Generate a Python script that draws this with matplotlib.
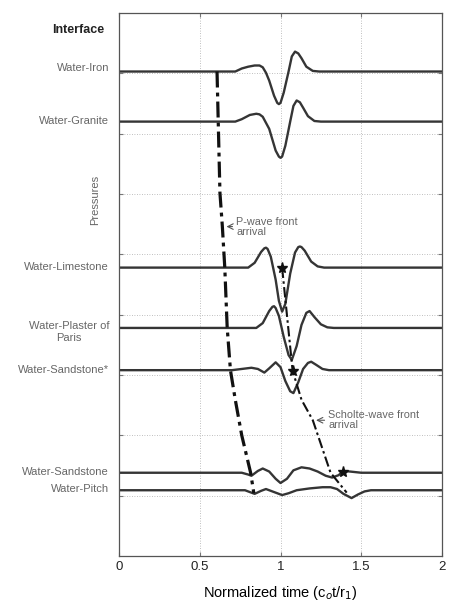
import matplotlib
matplotlib.use("Agg")
import matplotlib.pyplot as plt

plt.rcParams['font.family'] = ['Liberation Sans', 'DejaVu Sans']

W, H = 449, 603

# interface names and trace baselines (in grid units)
names = ["Water-Iron", "Water-Granite", "Water-Limestone", "Water-Plaster of\nParis",
         "Water-Sandstone*", "Water-Sandstone", "Water-Pitch"]
baselines = [8.03, 7.20, 4.78, 3.78, 3.08, 1.38, 1.09]

# pressure traces: (normalized time, amplitude)
iron_t = [0.0, 0.72, 0.76, 0.80, 0.84, 0.87, 0.89, 0.91, 0.93, 0.96, 0.98, 0.99, 1.00, 1.02, 1.05, 1.07, 1.09, 1.11, 1.13, 1.16, 1.20, 1.24, 2.0]
iron_a = [0.0, 0.0, 0.05, 0.08, 0.10, 0.10, 0.07, -0.02, -0.15, -0.40, -0.52, -0.54, -0.52, -0.35, 0.0, 0.25, 0.33, 0.30, 0.22, 0.08, 0.01, 0.0, 0.0]

granite_t = [0.0, 0.72, 0.76, 0.81, 0.85, 0.87, 0.89, 0.91, 0.93, 0.97, 0.99, 1.00, 1.01, 1.03, 1.06, 1.08, 1.10, 1.12, 1.14, 1.17, 1.21, 1.25, 2.0]
granite_a = [0.0, 0.0, 0.04, 0.11, 0.13, 0.12, 0.08, -0.02, -0.12, -0.48, -0.58, -0.60, -0.58, -0.40, 0.0, 0.26, 0.35, 0.32, 0.23, 0.09, 0.01, 0.0, 0.0]

lime_t = [0.0, 0.80, 0.84, 0.88, 0.90, 0.91, 0.92, 0.94, 0.97, 0.99, 1.01, 1.03, 1.06, 1.09, 1.11, 1.12, 1.13, 1.15, 1.19, 1.23, 1.27, 2.0]
lime_a = [0.0, 0.0, 0.08, 0.26, 0.32, 0.33, 0.31, 0.18, -0.20, -0.55, -0.73, -0.60, -0.10, 0.25, 0.34, 0.35, 0.34, 0.28, 0.10, 0.02, 0.0, 0.0]

plaster_t = [0.0, 0.85, 0.89, 0.93, 0.95, 0.96, 0.97, 0.99, 1.02, 1.05, 1.07, 1.10, 1.13, 1.16, 1.18, 1.21, 1.25, 1.29, 1.33, 2.0]
plaster_a = [0.0, 0.0, 0.08, 0.28, 0.35, 0.36, 0.33, 0.20, -0.15, -0.45, -0.53, -0.30, 0.05, 0.25, 0.28, 0.18, 0.06, 0.01, 0.0, 0.0]

sand2_t = [0.0, 0.70, 0.76, 0.82, 0.86, 0.90, 0.93, 0.97, 1.00, 1.03, 1.06, 1.08, 1.11, 1.14, 1.17, 1.19, 1.22, 1.26, 1.30, 2.0]
sand2_a = [0.0, 0.0, 0.02, 0.04, 0.02, -0.04, 0.03, 0.13, 0.05, -0.18, -0.35, -0.38, -0.20, 0.02, 0.12, 0.14, 0.09, 0.02, 0.0, 0.0]

sand_t = [0.0, 0.76, 0.80, 0.82, 0.86, 0.89, 0.93, 0.97, 1.00, 1.04, 1.08, 1.13, 1.18, 1.23, 1.28, 1.32, 1.36, 1.39, 1.43, 1.50, 2.0]
sand_a = [0.0, 0.0, -0.03, -0.05, 0.03, 0.07, 0.02, -0.10, -0.17, -0.10, 0.04, 0.09, 0.07, 0.02, -0.05, -0.08, -0.04, 0.03, 0.02, 0.0, 0.0]

pitch_t = [0.0, 0.78, 0.81, 0.84, 0.88, 0.91, 0.95, 1.01, 1.05, 1.10, 1.18, 1.26, 1.31, 1.35, 1.39, 1.44, 1.48, 1.52, 1.56, 2.0]
pitch_a = [0.0, 0.0, -0.03, -0.06, -0.01, 0.02, -0.02, -0.08, -0.05, 0.0, 0.03, 0.05, 0.05, 0.02, -0.06, -0.13, -0.07, -0.02, 0.0, 0.0]

traces = [(iron_t, iron_a), (granite_t, granite_a), (lime_t, lime_a), (plaster_t, plaster_a),
          (sand2_t, sand2_a), (sand_t, sand_a), (pitch_t, pitch_a)]

# wave front lines
p_front_t = [0.607, 0.625, 0.64, 0.655, 0.67, 0.69, 0.72, 0.76, 0.815, 0.835]
p_front_y = [8.03, 6.02, 5.46, 4.78, 3.78, 3.08, 2.59, 2.0, 1.38, 1.04]

s_front_t = [1.01, 1.075, 1.13, 1.20, 1.31, 1.41]
s_front_y = [4.78, 3.07, 2.59, 2.25, 1.38, 1.05]

star_t = [1.01, 1.075, 1.39]
star_y = [4.78, 3.07, 1.40]

xticks = [0, 0.5, 1, 1.5, 2]
xticklabels = ["0", "0.5", "1", "1.5", "2"]


def fx(px):
    return px / W


def fy(py):
    return 1 - py / H


fig = plt.figure(figsize=(W / 100, H / 100), dpi=100)
ax = fig.add_axes([fx(119), fy(556), fx(442) - fx(119), fy(13) - fy(556)])

# traces
for (t, a), b in zip(traces, baselines):
    ax.plot(t, [b + v for v in a], color='#353535', lw=1.7, solid_joinstyle='round')

# fronts
ax.plot(p_front_t, p_front_y, color='#111111', lw=2.3, linestyle=(0, (5, 1.6, 1.2, 1.6)))
ax.plot(s_front_t, s_front_y, color='#111111', lw=1.5, linestyle=(0, (5, 1.6, 1.2, 1.6)))
ax.plot(star_t, star_y, linestyle='none', marker='*', markersize=8, color='#111111')

# arrows
ax.annotate("", xy=(0.648, 5.46), xytext=(0.72, 5.46),
            arrowprops=dict(arrowstyle='->', color='#555555', lw=0.8))
ax.text(0.725, 5.46, "P-wave front\narrival", fontsize=7.8, color='#666666',
        va='center', ha='left', linespacing=1.0)
ax.annotate("", xy=(1.203, 2.25), xytext=(1.29, 2.25),
            arrowprops=dict(arrowstyle='->', color='#555555', lw=0.8))
ax.text(1.295, 2.25, "Scholte-wave front\narrival", fontsize=7.8, color='#666666',
        va='center', ha='left', linespacing=1.0)

ax.set_xlim(0, 2)
ax.set_ylim(0, 9)
ax.set_xticks(xticks)
ax.set_xticklabels(xticklabels, fontsize=9.5, color='#222222')
ax.set_yticks(range(1, 9))
ax.set_yticklabels([])
ax.tick_params(direction='in', length=3, top=True, right=True, color='#777777')
ax.grid(True, linestyle=(0, (1, 2)), color='#aaaaaa', lw=0.6)
for s in ax.spines.values():
    s.set_color('#555555')
    s.set_linewidth(0.9)

ax.set_xlabel("Normalized time (c$_o$t/r$_1$)", fontsize=10.5, labelpad=8)

# left-side labels
fig.text(fx(104), fy(30), "Interface", fontsize=9, fontweight='bold', color='#222222',
         ha='right', va='center')
label_y = [68, 121, 267, None, 370, 472, 489]
for name, py in zip(names, label_y):
    if py is None:
        continue
    fig.text(fx(109), fy(py), name, fontsize=8, color='#666666', ha='right', va='center')
fig.text(fx(69), fy(332), names[3], fontsize=8, color='#666666', ha='center', va='center',
         linespacing=1.15)
fig.text(fx(95), fy(200), "Pressures", fontsize=8, color='#666666', rotation=90,
         ha='center', va='center')

fig.savefig("out.png", dpi=100)
